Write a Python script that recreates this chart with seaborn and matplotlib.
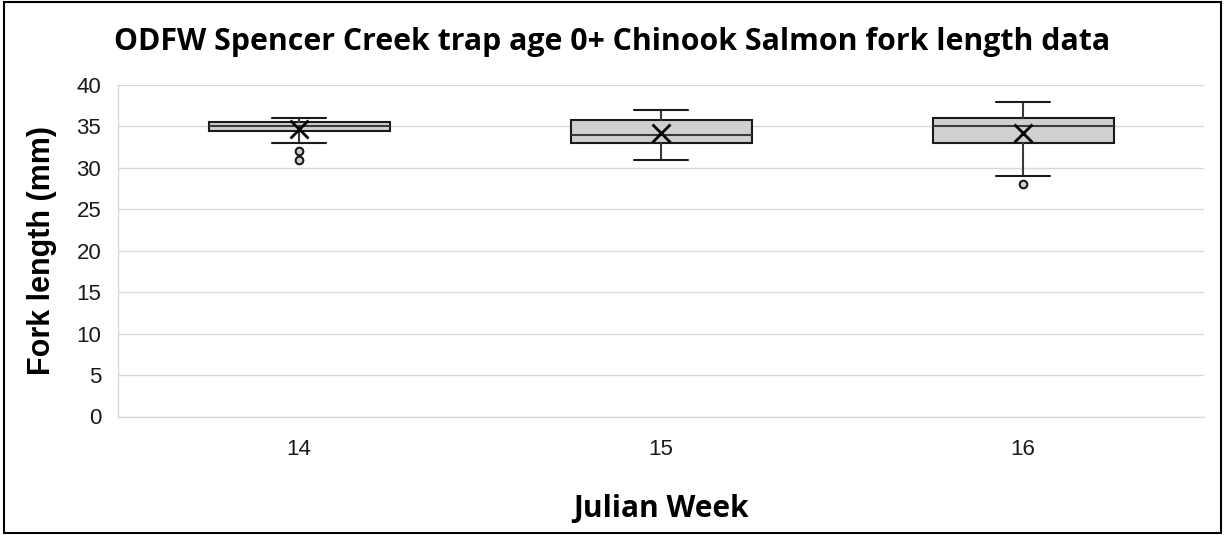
import matplotlib
matplotlib.use("Agg")
import matplotlib.pyplot as plt
import seaborn as sns
from matplotlib.patches import Rectangle

# ---- data ----
weeks = ["14", "15", "16"]
q1 = [34.5, 33.0, 33.0]
median = [35.0, 34.0, 35.0]
q3 = [35.5, 35.75, 36.0]
whisker_low = [33.0, 31.0, 29.0]
whisker_high = [36.0, 37.0, 38.0]
mean = [34.7, 34.2, 34.2]
outliers = [[32.0, 31.0], [], [28.0]]
y_ticks = [0, 5, 10, 15, 20, 25, 30, 35, 40]

sns.set_theme(style="white")
plt.rcParams["font.family"] = ["Liberation Sans", "DejaVu Sans"]

fig = plt.figure(figsize=(12.25, 5.35), dpi=100)
ax = fig.add_axes([118 / 1225, 1 - 416.5 / 535, (1204 - 118) / 1225, (416.5 - 85) / 535])

stats = []
for i, w in enumerate(weeks):
    stats.append(dict(label=w, q1=q1[i], med=median[i], q3=q3[i],
                      whislo=whisker_low[i], whishi=whisker_high[i],
                      mean=mean[i], fliers=outliers[i]))

ax.bxp(stats, positions=range(len(weeks)), widths=0.5, capwidths=0.15,
       patch_artist=True, showmeans=True, showfliers=True,
       boxprops=dict(facecolor="#d0d0d0", edgecolor="#1a1a1a", linewidth=1.5),
       medianprops=dict(color="#3a3a3a", linewidth=1.5),
       whiskerprops=dict(color="#3a3a3a", linewidth=1.5),
       capprops=dict(color="#1a1a1a", linewidth=1.5),
       meanprops=dict(marker="x", markeredgecolor="#000000", markersize=13,
                      markeredgewidth=2),
       flierprops=dict(marker="o", markerfacecolor="#d0d0d0",
                       markeredgecolor="#1a1a1a", markersize=5.5,
                       markeredgewidth=1.5))

ax.set_xlim(-0.5, len(weeks) - 0.5)
ax.set_ylim(0, 40)
ax.set_yticks(y_ticks)
ax.set_xticks(range(len(weeks)))
ax.set_xticklabels(weeks)
ax.yaxis.grid(True, color="#d9d9d9", linewidth=1)
ax.set_axisbelow(True)
for s in ["top", "right"]:
    ax.spines[s].set_visible(False)
ax.spines["left"].set_color("#d9d9d9")
ax.spines["bottom"].set_color("#d9d9d9")
ax.spines["left"].set_linewidth(1)
ax.spines["bottom"].set_linewidth(1)

ax.tick_params(axis="y", length=0, pad=12, labelsize=16, labelcolor="#1a1a1a")
ax.tick_params(axis="x", length=0, pad=16, labelsize=16, labelcolor="#1a1a1a")

ax.set_xlabel("Julian Week", family=["Open Sans", "DejaVu Sans"], fontweight="bold",
              fontsize=21.5, labelpad=25, color="#000000")
ax.set_ylabel("Fork length (mm)", family=["Liberation Sans", "DejaVu Sans"],
              fontweight="bold", fontsize=22, labelpad=14, color="#000000")

fig.text(0.5, 1 - 42 / 535, "ODFW Spencer Creek trap age 0+ Chinook Salmon fork length data",
         ha="center", va="center", family=["Open Sans", "DejaVu Sans"],
         fontweight="bold", fontsize=21.8, color="#000000")

fig.patches.append(Rectangle((0.003, 0.004), 0.994, 0.992, transform=fig.transFigure,
                             fill=False, edgecolor="#000000", linewidth=1.5))

fig.savefig("out.png", dpi=100)
